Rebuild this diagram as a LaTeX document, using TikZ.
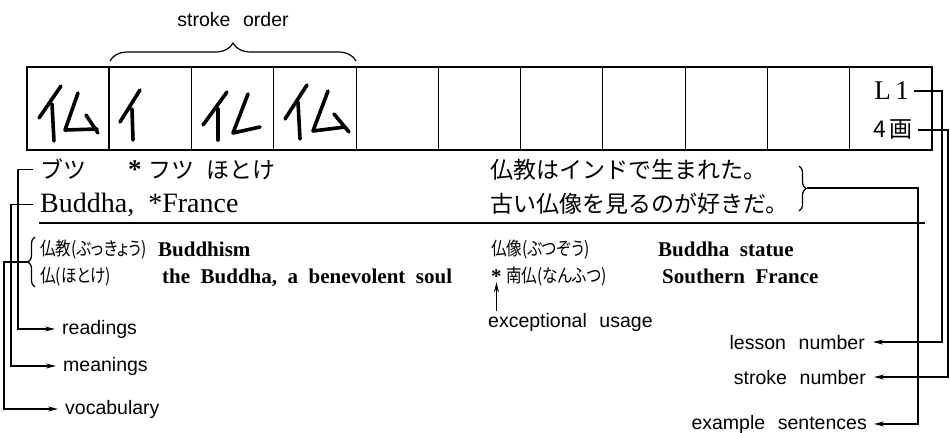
\documentclass[tikz,border=0pt]{standalone}
\usepackage{fontspec}
\setmainfont{Liberation Serif}
\setsansfont{Liberation Sans}
\newfontfamily\jp{Noto Sans CJK JP}
\newfontfamily\jpp[RawFeature=+palt, FakeStretch=0.84]{Noto Sans CJK JP}
\usetikzlibrary{arrows.meta,decorations.pathreplacing}
\newcommand\lblfont{\sffamily\fontsize{19.5}{20}\selectfont\spaceskip0.65em\relax}
\newcommand\envfont{\bfseries\fontsize{21}{21}\selectfont\spaceskip0.5em\relax}
\newcommand\bigenfont{\fontsize{28}{28}\selectfont\spaceskip0.5em\relax}
\tikzset{
  lbl/.style={font=\lblfont, inner sep=0pt},
  conn/.style={line width=1.2pt},
  arr/.style={conn,-{Stealth[length=10pt,width=5pt]}},
  hand/.style={line width=3.6pt, line cap=round, line join=round},
  jpbig/.style={font=\jp\fontsize{23}{23}\selectfont, inner sep=0pt},
  jpv/.style={font=\jpp\fontsize{18.5}{19}\selectfont, inner sep=0pt},
  env/.style={font=\envfont, inner sep=0pt},
  bigen/.style={font=\bigenfont, inner sep=0pt},
  bracestyle/.style={decorate, line width=1.2pt}
}
\begin{document}
\begin{tikzpicture}[x=1pt,y=-1pt]
\useasboundingbox (0,0) rectangle (950,433);

% stroke order label and brace
\node[lbl] (so) at (233,20) {stroke order};
\draw[bracestyle, decoration={brace, amplitude=18pt}] (110,61) -- (356,61);

% grid of cells
\draw[line width=2.4pt] (27,67) rectangle (932,150);
\draw[line width=2.2pt] (109.3,67) -- (109.3,150);
\foreach \i in {2,...,10} {
  \draw[line width=1.1pt] ({27+\i*82.27},67) -- ++(0,83);
}

% handwritten strokes
% cell 1: full character
\draw[hand] (61,86) -- (39,118);
\draw[hand] (52,104) -- (54,141);
\draw[hand] (78,93) -- (65,130) -- (97,129);
\draw[hand] (86,115) -- (98,133);
% cell 2
\draw[hand] (140,90) -- (120,122);
\draw[hand] (132,109) -- (133,140);
% cell 3
\draw[hand] (227,92) -- (203,125);
\draw[hand] (218,109) -- (218,140);
\draw[hand] (248,94) -- (233,133) -- (260,127);
% cell 4
\draw[hand] (307,85) -- (285,119);
\draw[hand] (298,102) -- (300,139);
\draw[hand] (328,91) -- (313,131) -- (345,127);
\draw[hand] (334,114) -- (349,132);

% lesson / stroke count
\node[font=\fontsize{27}{27}\selectfont, inner sep=0pt, anchor=base east] (L1) at (909,100) {L\,1};
\node[font=\jp\fontsize{23}{23}\selectfont, inner sep=0pt, anchor=base east] (ga) at (913,138) {4\,画};

% readings and meanings
\node[jpbig, anchor=base west] (rd) at (40,178.5) {ブツ\hspace{42pt}{\fontspec{Liberation Serif}\fontsize{27}{27}\selectfont\bfseries *}\hspace{7pt}フツ\hspace{12pt}ほとけ};
\node[bigen, anchor=base west] (bd) at (40,212) {Buddha, *France};

% example sentences
\node[jpbig, anchor=base west] (s1) at (490,178.5) {仏教はインドで生まれた。};
\node[jpbig, anchor=base west] (s2) at (490,212.5) {古い仏像を見るのが好きだ。};
\draw[bracestyle, decoration={brace, amplitude=7pt}] (799,166) -- (799,211);
\coordinate (sb) at (807,188);

% separator
\draw[line width=1.4pt] (39,223) -- (925,223);

% vocabulary
\node[jpv, anchor=base west] (v1j) at (40,255) {仏教(ぶっきょう)};
\node[env, anchor=base west] (v1e) at (158,256) {Buddhism};
\node[jpv, anchor=base west] (v2j) at (40,282) {仏(ほとけ)};
\node[env, anchor=base west] (v2e) at (162,283) {the Buddha, a benevolent soul};
\node[jpv, anchor=base west] (v3j) at (491,255) {仏像(ぶつぞう)};
\node[env, anchor=base west] (v3e) at (658,256) {Buddha statue};
\node[env, anchor=base west] (ast) at (491,283) {*};
\node[jpv, anchor=base west] (v4j) at (506,282) {南仏(なんふつ)};
\node[env, anchor=base west] (v4e) at (662,283) {Southern France};
\draw[bracestyle, decoration={brace, amplitude=7pt}] (35,287) -- (35,237);
\coordinate (vb) at (28,262);

% labels
\node[lbl, anchor=base west] (readings) at (62,334) {readings};
\node[lbl, anchor=base west] (meanings) at (63,371) {meanings};
\node[lbl, anchor=base west] (vocab) at (65,414) {vocabulary};
\node[lbl, anchor=base west] (exc) at (488,327) {exceptional usage};
\node[lbl, anchor=base east] (lesson) at (865,349) {lesson number};
\node[lbl, anchor=base east] (stroke) at (866,384) {stroke number};
\node[lbl, anchor=base east] (example) at (867,429) {example sentences};

% connectors left
\draw[arr] ([xshift=-7pt]rd.west) -- ++(-15,0) |- ([xshift=-7pt]readings.west);
\draw[arr] ([xshift=-7pt]bd.west) -- ++(-22,0) |- ([xshift=-7pt]meanings.west);
\draw[arr] (vb) -- ++(-24,0) |- ([xshift=-7pt]vocab.west);

% connectors right
\draw[arr] ([xshift=5pt]L1.east) -- ++(28,0) |- ([xshift=8pt]lesson.east);
\draw[arr] ([xshift=5pt]ga.east) -- ++(30,0) |- ([xshift=8pt]stroke.east);
\draw[arr] (sb) -- ++(111,0) |- ([xshift=7pt]example.east);

% exceptional usage arrow
\draw[arr, shorten <=2pt, shorten >=-1pt] (ast.south |- exc.north) -- (ast.south);
\end{tikzpicture}
\end{document}
